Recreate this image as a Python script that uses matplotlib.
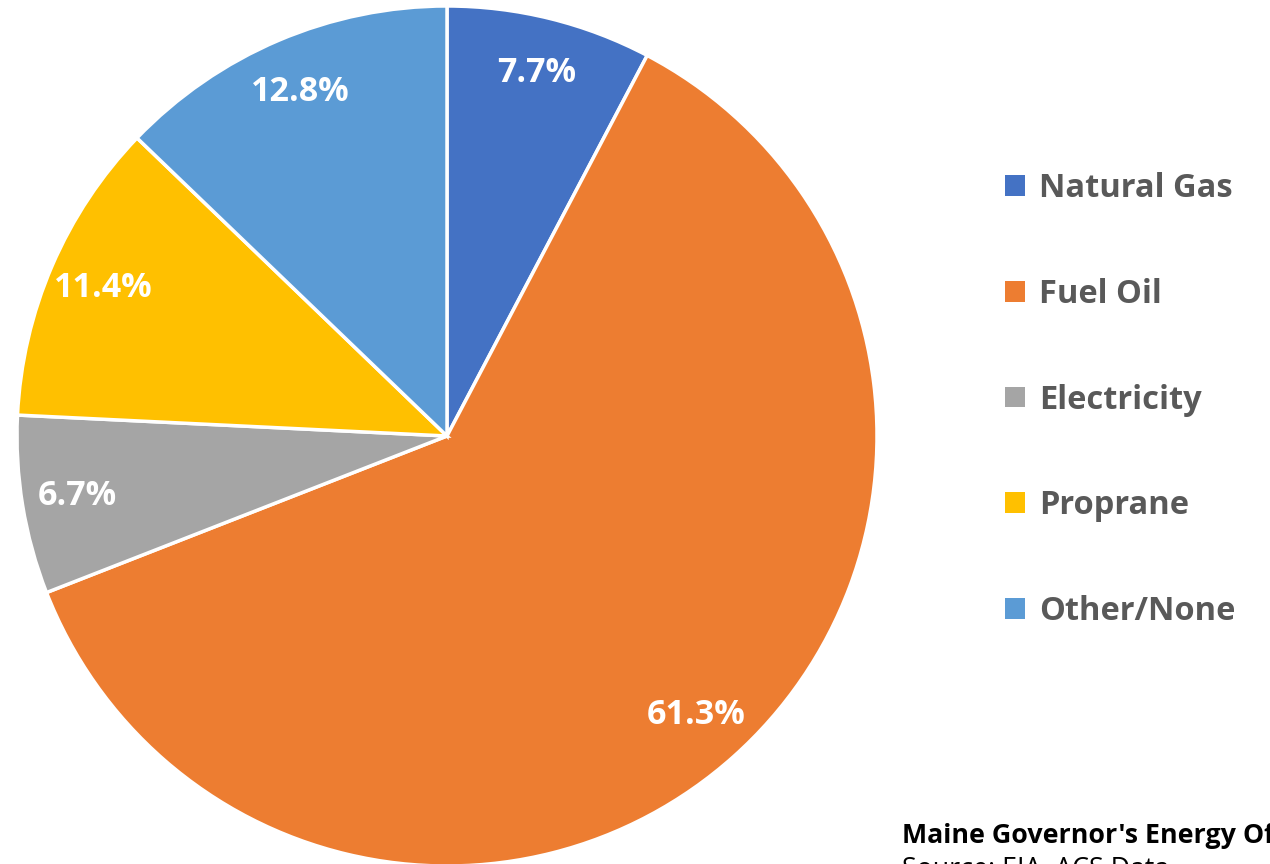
import matplotlib
matplotlib.use("Agg")
import matplotlib.pyplot as plt
from matplotlib.patches import Patch

categories = ["Natural Gas", "Fuel Oil", "Electricity", "Proprane", "Other/None"]
values = [7.7, 61.3, 6.7, 11.4, 12.8]
colors = ["#4472C4", "#ED7D31", "#A5A5A5", "#FFC000", "#5B9BD5"]

plt.rcParams['font.family'] = ['Open Sans', 'DejaVu Sans']

fig = plt.figure(figsize=(12.7, 8.64), dpi=100)
ax = fig.add_axes([(447 - 430) / 1270, (864 - 436 - 430) / 864, 860 / 1270, 860 / 864])
wedges, texts, autotexts = ax.pie(
    values, colors=colors, startangle=90, counterclock=False,
    autopct=lambda p: f"{p:.1f}%", pctdistance=0.87, radius=1,
    wedgeprops=dict(edgecolor="white", linewidth=2.5),
    textprops=dict(color="white", fontsize=24.5, fontweight="bold"))
for t, v in zip(autotexts, values):
    t.set_text(f"{v:.1f}%")
ax.set_xlim(-1, 1)
ax.set_ylim(-1, 1)
ax.set_aspect("equal")
ax.axis("off")

handles = [Patch(facecolor=c, edgecolor="none") for c in colors]
leg = fig.legend(handles, categories, loc="upper left", bbox_to_anchor=(1005 / 1270, 1 - 172 / 864),
                 frameon=False, fontsize=23.5, labelspacing=2.23, handlelength=0.6, handleheight=0.6,
                 handletextpad=0.45, borderaxespad=0, borderpad=0)
for t in leg.get_texts():
    t.set_color("#595959")
    t.set_fontweight("bold")

fig.text(902 / 1270, 1 - 836 / 864, "Maine Governor's Energy Office", fontsize=19.3, fontweight="bold",
         color="black", va="center", ha="left")
fig.text(902 / 1270, 1 - 870 / 864, "Source: EIA, ACS Data", fontsize=19.3,
         color="black", va="center", ha="left")

fig.savefig("out.png", dpi=100)
